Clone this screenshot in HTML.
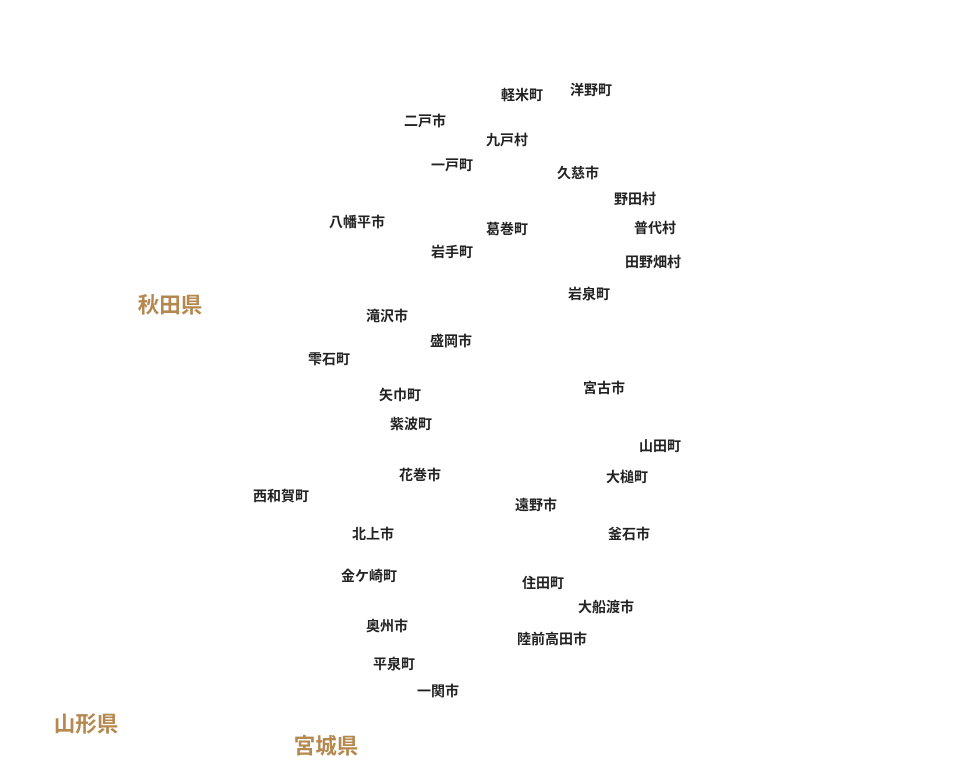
<!DOCTYPE html>
<html><head><meta charset="utf-8"><style>
html,body{margin:0;padding:0;background:#fff;}
#m{position:relative;width:978px;height:780px;overflow:hidden;font-family:"Liberation Sans","Noto Sans CJK JP",sans-serif;}
#m span{position:absolute;transform:translate(-50%,-50%);margin-top:1px;white-space:nowrap;font-size:14px;font-weight:bold;color:#222;}
#m span.p{font-size:21.5px;color:#b5884f;}
</style></head><body><div id="m">
<span style="left:522px;top:94px">軽米町</span>
<span style="left:591px;top:89px">洋野町</span>
<span style="left:425px;top:120px">二戸市</span>
<span style="left:507px;top:139px">九戸村</span>
<span style="left:452px;top:164px">一戸町</span>
<span style="left:578px;top:172px">久慈市</span>
<span style="left:635px;top:198px">野田村</span>
<span style="left:357px;top:221px">八幡平市</span>
<span style="left:507px;top:228px">葛巻町</span>
<span style="left:655px;top:227px">普代村</span>
<span style="left:452px;top:251px">岩手町</span>
<span style="left:653px;top:261px">田野畑村</span>
<span style="left:589px;top:293px">岩泉町</span>
<span style="left:387px;top:315px">滝沢市</span>
<span style="left:451px;top:340px">盛岡市</span>
<span style="left:329px;top:358px">雫石町</span>
<span style="left:604px;top:387px">宮古市</span>
<span style="left:400px;top:394px">矢巾町</span>
<span style="left:411px;top:423px">紫波町</span>
<span style="left:660px;top:445px">山田町</span>
<span style="left:420px;top:474px">花巻市</span>
<span style="left:627px;top:476px">大槌町</span>
<span style="left:281px;top:495px">西和賀町</span>
<span style="left:536px;top:504px">遠野市</span>
<span style="left:373px;top:533px">北上市</span>
<span style="left:629px;top:533px">釜石市</span>
<span style="left:369px;top:575px">金ケ崎町</span>
<span style="left:543px;top:582px">住田町</span>
<span style="left:606px;top:606px">大船渡市</span>
<span style="left:387px;top:625px">奥州市</span>
<span style="left:552px;top:638px">陸前高田市</span>
<span style="left:394px;top:663px">平泉町</span>
<span style="left:438px;top:690px">一関市</span>
<span class="p" style="left:170px;top:303px">秋田県</span>
<span class="p" style="left:86px;top:722px">山形県</span>
<span class="p" style="left:326px;top:744px">宮城県</span>
</div></body></html>
